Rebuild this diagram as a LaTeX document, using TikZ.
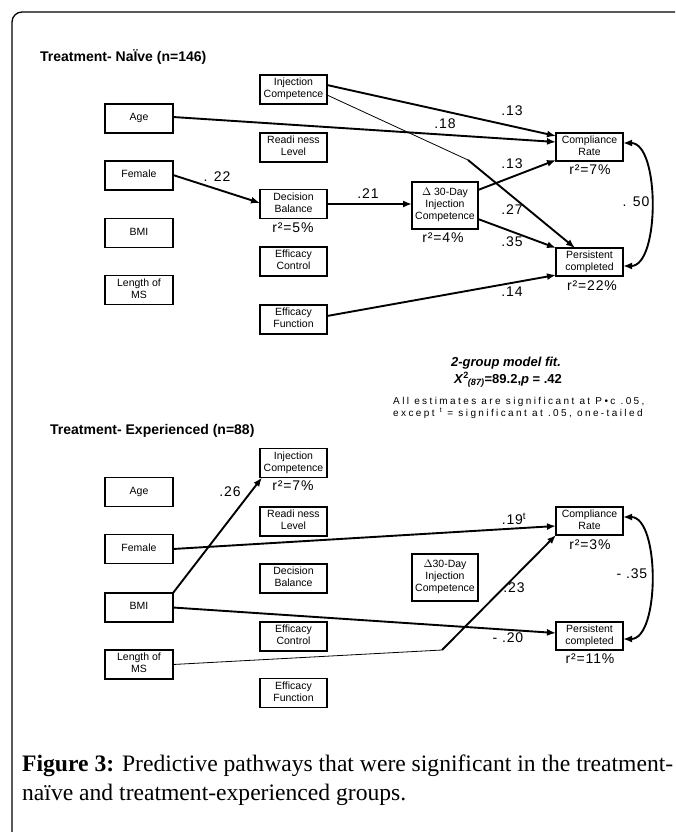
\documentclass[tikz,border=0pt]{standalone}
\usepackage{fontspec}
\setmainfont{Liberation Serif}
\setsansfont{Liberation Sans}
\newfontfamily\spacedsans[LetterSpace=24]{Liberation Sans}
\newfontfamily\coeffont[LetterSpace=6]{Liberation Sans}
\usetikzlibrary{arrows.meta}
\newcommand\bxt[2][0pt]{\raisebox{#1}{\begin{tabular}{@{}c@{}}#2\end{tabular}}}
\begin{document}
\begin{tikzpicture}[x=1pt,y=-1pt,
 box/.style={draw,line width=1.1pt,inner sep=0pt,outer sep=0pt,font=\sffamily\fontsize{10.5}{12}\selectfont},
 lbox/.style={box,minimum width=68pt,minimum height=29pt},
 mbox/.style={box,minimum width=67pt,minimum height=29pt},
 rbox/.style={box,minimum width=67pt,minimum height=28pt},
 dbox/.style={box,minimum width=66pt,minimum height=47pt},
 strong/.style={line width=1.9pt,-{Latex[length=9pt,width=7pt]}},
 weak/.style={line width=0.8pt},
 corr/.style={line width=1.9pt,{Latex[length=9pt,width=7pt]}-{Latex[length=9pt,width=7pt]}},
 coef/.style={inner sep=0pt,font=\coeffont\fontsize{14}{14}\selectfont},
 grp/.style={anchor=base west,inner sep=0pt,font=\sffamily\bfseries\fontsize{14}{14}\selectfont},
 capt/.style={anchor=base west,inner sep=0pt,font=\rmfamily\fontsize{23.6}{23.6}\selectfont},
]
\path[use as bounding box] (0,0) rectangle (675,832);
\fill[white] (0,0) rectangle (675,832);
\begin{scope}
\clip (0,0) rectangle (675,832);
\draw[line width=1.3pt,rounded corners=10pt] (12,12) rectangle (720,870);
\end{scope}

% ---------- Treatment-naive ----------
\node[grp] (t1) at (40,62) {Treatment- NaÏve (n=146)};
\node[mbox] (injc1) at (293.5,89.5) {\bxt{Injection\\Competence}};
\node[lbox] (age1) at (139,118.5) {\bxt[3.7pt]{Age}};
\node[mbox] (read1) at (293.5,147.5) {\bxt[1.2pt]{Readi ness\\Level}};
\node[lbox] (fem1) at (139,175.5) {\bxt[1.2pt]{Female}};
\node[mbox] (decb1) at (293.5,204) {\bxt{Decision\\Balance}};
\node[lbox] (bmi1) at (139,233) {\bxt[1.2pt]{BMI}};
\node[mbox] (effc1) at (293.5,261.5) {\bxt{Efficacy\\Control}};
\node[lbox] (lenms1) at (139,290) {\bxt{Length of\\MS}};
\node[mbox] (efff1) at (293.5,319.5) {\bxt{Efficacy\\Function}};
\node[rbox] (comp1) at (589.5,147) {\bxt{Compliance\\Rate}};
\node[dbox] (d30a) at (445,205.5) {\bxt[3.2pt]{$\Delta$ 30-Day\\Injection\\Competence}};
\node[rbox] (pers1) at (589.5,262) {\bxt{Persistent\\completed}};

\coordinate (bend1) at (468,160);
\draw[strong] ([yshift=4.5pt]injc1.east) -- ([yshift=-3pt]comp1.north west);
\draw[weak] ([yshift=-5.5pt]injc1.east) -- (bend1);
\draw[strong] (bend1) -- ([xshift=19pt]pers1.north west);
\draw[strong] ([yshift=1.5pt]age1.east) -- ([yshift=5pt]comp1.west);
\draw[strong] ([yshift=0.5pt]fem1.east) -- ([yshift=1pt]decb1.west);
\draw[strong] (decb1.east) -- (decb1.east -| d30a.west);
\draw[strong] ([yshift=15.5pt]d30a.east) -- ([yshift=1pt]comp1.south west);
\draw[strong] ([yshift=-13.5pt]d30a.east) -- (pers1.north west);
\draw[strong] ([yshift=3.5pt]efff1.east) -- ([yshift=1pt]pers1.south west);
\draw[corr] ([yshift=4pt]comp1.east) .. controls +(37,0) and +(37,0) .. ([yshift=-4pt]pers1.east);

\node[coef] (k1) at (512,111) {.13};
\node[coef] (k2) at (445,124) {.18};
\node[coef] (k3) at (217,177) {. 22};
\node[coef] (k4) at (368,194) {.21};
\node[coef] (k5) at (512,164) {.13};
\node[coef] (k6) at (512,210) {.27};
\node[coef] (k7) at (512,242) {.35};
\node[coef] (k8) at (512,292) {.14};
\node[coef] (k9) at (636,202) {. 50};
\node[coef] (r1) at (293,228) {r²=5\%};
\node[coef] (r2) at (443,238) {r²=4\%};
\node[coef] (r3) at (590,170) {r²=7\%};
\node[coef] (r4) at (592,286) {r²=22\%};

% ---------- model fit ----------
\node[anchor=base,inner sep=0pt,font=\sffamily\bfseries\itshape\fontsize{13}{13}\selectfont] (fit1) at (506,366) {2-group model fit.};
\node[anchor=base,inner sep=0pt,font=\sffamily\bfseries\fontsize{13}{13}\selectfont] (fit2) at (508,383) {\textit{X}\textsuperscript{2}\kern-1pt\textsubscript{\textit{(87)}}=89.2,\textit{p} = .42};
\node[anchor=base west,inner sep=0pt,font=\spacedsans\fontsize{10}{10}\selectfont] (fit3) at (393,404) {All estimates are significant at P•c .05,};
\node[anchor=base west,inner sep=0pt,font=\spacedsans\fontsize{10}{10}\selectfont] (fit4) at (393,416) {except \textsuperscript{t} = significant at .05, one-tailed};

% ---------- Treatment-experienced ----------
\node[grp] (t2) at (50,434) {Treatment- Experienced (n=88)};
\node[mbox] (injc2) at (293.5,463) {\bxt{Injection\\Competence}};
\node[lbox] (age2) at (139,492) {\bxt[3.7pt]{Age}};
\node[mbox] (read2) at (293.5,521.5) {\bxt[1.2pt]{Readi ness\\Level}};
\node[lbox] (fem2) at (139,549) {\bxt[1.2pt]{Female}};
\node[mbox] (decb2) at (293.5,578.5) {\bxt{Decision\\Balance}};
\node[lbox] (bmi2) at (139,607.5) {\bxt[1.2pt]{BMI}};
\node[mbox] (effc2) at (293.5,636.5) {\bxt{Efficacy\\Control}};
\node[lbox] (lenms2) at (139,664.5) {\bxt{Length of\\MS}};
\node[mbox] (efff2) at (293.5,693) {\bxt{Efficacy\\Function}};
\node[rbox] (comp2) at (589.5,521) {\bxt{Compliance\\Rate}};
\node[dbox] (d30b) at (445,577.5) {\bxt[0.7pt]{$\Delta$30-Day\\Injection\\Competence}};
\node[rbox] (pers2) at (589.5,636) {\bxt{Persistent\\completed}};

\coordinate (bend2) at (442,650);
\draw[strong] (bmi2.north east) -- ([xshift=2pt]injc2.south west);
\draw[strong] (fem2.east) -- ([yshift=-5pt]comp2.west);
\draw[strong] (bmi2.east) -- ([yshift=3pt]pers2.west);
\draw[weak] (lenms2.east) -- (bend2);
\draw[strong] (bend2) -- (comp2.south west);
\draw[corr] ([yshift=4pt]comp2.east) .. controls +(37,0) and +(37,0) .. ([yshift=-3pt]pers2.east);

\node[coef] (m1) at (230,492) {.26};
\node[coef] (s1) at (293,486) {r²=7\%};
\node[coef] (m2) at (514,519) {.19\textsuperscript{t}};
\node[coef] (s2) at (590,545) {r²=3\%};
\node[coef] (m3) at (632,574) {- .35};
\node[coef] (m4) at (514,588) {.23};
\node[coef] (m5) at (508,638) {- .20};
\node[coef] (s3) at (590,659) {r²=11\%};

% ---------- caption ----------
\node[capt] (cap1) at (22,771) {\textbf{Figure 3:} Predictive pathways that were significant in the treatment-};
\node[capt] (cap2) at (22,800) {naïve and treatment-experienced groups.};
\end{tikzpicture}
\end{document}
